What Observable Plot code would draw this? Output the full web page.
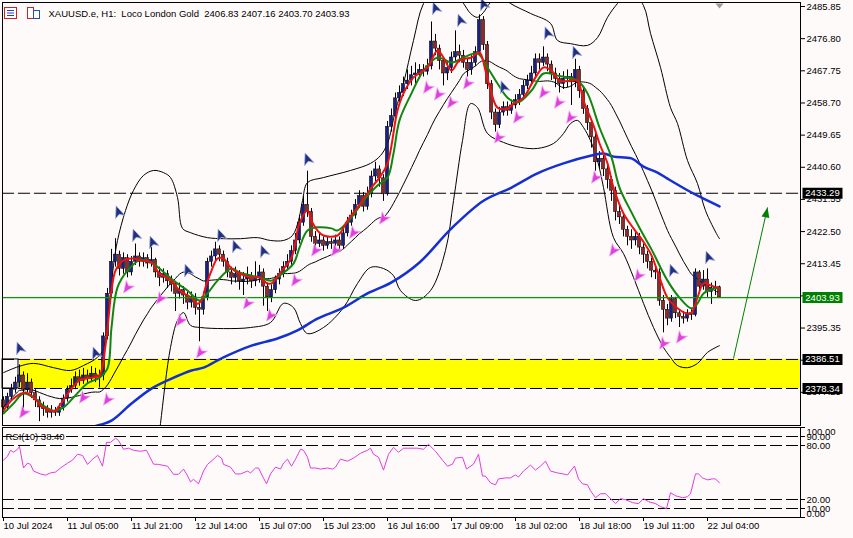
<!DOCTYPE html>
<html><head><meta charset="utf-8">
<script src="https://cdn.jsdelivr.net/npm/d3@7"></script>
<script src="https://cdn.jsdelivr.net/npm/@observablehq/plot@0.6"></script>
<style>
body{margin:0;background:#fffafa;}
#wrap{position:relative;width:853px;height:538px;overflow:hidden;background:#fffafa;}
#wrap svg{display:block;}
#icons{position:absolute;left:4px;top:7px;}
</style></head><body><div id="wrap"><div id="icons"></div></div>
<script>
// ---------- DATA ----------
const symbolName = "XAUUSD.e", timeframe = "H1", description = "Loco London Gold";
const firstOpen = 2375;
const closes = [2373,2376,2378,2380,2382,2378,2380,2377,2375,2373,
2372.5,2371.5,2372,2371.5,2373,2375.5,2378,2379,2381.5,2380.5,
2382,2381,2382.5,2381.5,2382,2393,2405,2414,2416,2412,
2415,2411,2414,2415.5,2414,2415,2413.5,2414.5,2411,2409.5,
2410.5,2408.5,2407.5,2405,2406,2404.5,2402.5,2404,2401,2400.5,
2404,2414,2415.5,2417.5,2416,2414,2411,2409.5,2410.5,2408.5,
2409,2410,2408.5,2409.5,2411,2407,2404,2406,2409,2410.5,
2412.5,2414,2417,2420,2425,2430,2428,2421,2419,2420,
2418.5,2419.5,2419,2420,2418.5,2422,2425,2427,2430,2432.5,
2429.5,2433,2438,2440,2437.5,2433,2452,2455,2460,2461.5,
2464,2465,2466.5,2467,2468,2467.5,2469,2476,2474,2470.5,
2467,2468.5,2471.5,2473,2472,2470,2468,2470,2473,2482,
2475,2464,2456,2452.5,2456,2457.5,2456.5,2458,2459.5,2461,
2463.5,2465,2467,2471,2470,2471.5,2469.5,2467,2465.5,2464,
2465.5,2466,2464.5,2468,2462,2457,2453,2449,2442,2443,
2440,2437,2434,2428,2426.5,2423,2421,2420,2421,2418,
2416,2414,2411.5,2411,2403,2400.5,2398,2403.5,2399.5,2398.5,
2398,2399.5,2399,2411,2407,2409,2405.5,2406.5,2406.83,2403.93];
const highs = [2376,2377,2379.5,2381.5,2385,2383,2382.5,2381,2378,2376,
2374.5,2373.5,2373.5,2373,2374,2376.5,2379,2381,2383,2383.5,
2384,2383.5,2384.5,2384,2383.5,2394,2406.5,2417.5,2420.5,2417,
2416.5,2416,2415.5,2419,2416.5,2416.5,2416,2418,2415,2412.5,
2412,2411.5,2410,2408.5,2408,2407,2405.5,2405.5,2405,2403,
2405.5,2415,2417,2419.5,2418.5,2417,2415,2412.5,2412.5,2411.5,
2411,2412.5,2411,2414,2413,2412,2408,2407.5,2410,2412,
2414,2416,2418.5,2422,2427,2432.5,2439.5,2429,2422.5,2422,
2421,2421,2420.5,2421.5,2421,2423.5,2426.5,2428.5,2431.5,2434,
2433.5,2435,2439.5,2442,2441,2438.5,2453.5,2457,2461.5,2463.5,
2466,2468,2469,2470,2469.5,2469.5,2471,2481.5,2478,2475,
2471.5,2470,2473,2479,2475,2473.5,2471,2472,2474.5,2483.5,
2483,2476,2465,2457,2457.5,2459,2459,2459.5,2461,2462.5,
2465,2466.5,2469,2472.5,2472.5,2474.5,2472.5,2470.5,2468.5,2467,
2467.5,2468,2467,2471,2469,2463,2458,2454,2450,2445,
2444,2441,2438,2435,2430,2427.5,2424,2423,2422.5,2422,
2419,2417,2415,2413,2412,2404.5,2402,2404.5,2404,2400.5,
2400,2400.5,2400.5,2412,2411.5,2411.5,2412,2408,2408.5,2407.16];
const lows = [2371.5,2372,2375,2377,2378.5,2372.5,2376.5,2375.5,2373,2369,
2370.5,2370,2370,2370.5,2370.5,2372,2374.5,2377,2378,2379,
2379.5,2379.5,2380,2380,2378.5,2380.5,2392,2404,2412.5,2410,
2410.5,2409.5,2410,2413,2412.5,2412.5,2412,2412.5,2409.5,2407,
2408,2406.5,2405.5,2400,2403.5,2402,2400.5,2401,2399,2391.5,
2399,2403,2412.5,2414,2414,2412.5,2409.5,2407.5,2408,2406,
2404.5,2407.5,2406.5,2407,2408,2401.5,2400,2402.5,2405,2407.5,
2409.5,2411.5,2413,2416,2419,2424,2426.5,2419.5,2417.5,2418,
2417,2417.5,2417.5,2418,2417,2417.5,2421,2424,2426,2429,
2428,2428.5,2432,2436.5,2435,2431,2432.5,2450.5,2454,2458.5,
2460.5,2462.5,2463.5,2464,2465.5,2466,2466.5,2468,2472,2468,
2463.5,2465,2467,2470,2470,2468.5,2466,2466.5,2469,2472,
2473.5,2462.5,2454,2450.5,2451.5,2455,2455,2455.5,2457,2458,
2460,2462.5,2464,2466,2468,2469,2467.5,2465,2463,2461.5,
2462.5,2463,2458,2463,2460,2455.5,2451,2446,2439.5,2440,
2438,2434.5,2431,2425.5,2424.5,2421,2418.5,2417.5,2418.5,2416,
2413.5,2412,2409.5,2409,2401.5,2394,2396,2397,2398,2395.5,
2396.5,2397,2397.5,2398.5,2405.5,2406,2404,2402,2404.5,2403.70];

// moving averages: [bar, price]
const redMA = [[0,2372.1],[2.5,2375.5],[5.5,2377.2],[7.5,2375.8],[10,2373.0],[13,2372.1],[14,2373.5],[17,2378.3],[19,2380.6],[22,2381.4],[24,2382.0],[25.5,2390.4],[27,2405.9],[28,2411.5],[30,2414.4],[32.5,2414.9],[34,2414.4],[37,2413.8],[39,2410.7],[42,2408.7],[44,2405.9],[47,2403.9],[48.5,2402.2],[49.5,2403.1],[50.5,2406.8],[52,2411.5],[53.5,2414.9],[55,2414.9],[57,2412.1],[59,2410.7],[62,2409.6],[64,2409.6],[66,2407.9],[67,2407.9],[69,2410.7],[72,2415.2],[74,2424.8],[76,2428.4],[77,2425.6],[78.5,2422.8],[80,2421.4],[83.5,2421.4],[86,2425.6],[88.5,2429.3],[92,2434.9],[94,2437.7],[96,2441.7],[98.5,2456.6],[100,2461.4],[102.5,2465.9],[106,2468.7],[108.5,2473.5],[110,2471.5],[112,2467.8],[114,2470.7],[117,2471.5],[119,2472.9],[120.5,2467.8],[122,2461.4],[123.5,2457.4],[126,2457.1],[127.5,2458.5],[130,2460.2],[132.5,2465.0],[135,2468.7],[137,2467.8],[139,2465.0],[142,2465.0],[143.5,2465.0],[145,2459.4],[147.5,2452.4],[149,2447.3],[151,2441.7],[152.5,2434.9],[155,2427.6],[157.5,2423.4],[160,2419.6],[162,2415.8],[164,2409.6],[166,2403.9],[168.5,2400.9],[171,2399.4],[172,2399.7],[173.5,2403.9],[175,2407.9],[177,2407.3],[179,2406.5]];
const greenMA = [[0,2371.3],[2.5,2374.1],[5,2376.9],[7.5,2375.8],[10,2373.5],[12.5,2372.1],[15,2373.0],[17.5,2375.8],[21,2379.8],[24,2381.4],[26,2384.0],[27,2395.5],[28.5,2406.8],[31,2411.5],[34,2414.4],[37,2413.8],[39,2412.1],[42.5,2408.7],[46,2405.9],[49,2403.1],[51,2405.1],[53.5,2408.7],[57,2412.1],[59,2411.0],[62,2410.1],[64,2409.6],[67,2408.7],[69,2410.1],[72.5,2413.5],[74,2418.0],[76,2422.8],[78.5,2423.7],[82,2423.4],[83.5,2422.8],[87,2426.5],[90,2431.2],[93.5,2435.5],[96,2437.7],[97.5,2444.5],[99,2453.8],[102,2461.4],[105,2467.8],[108.5,2471.5],[112,2470.1],[115,2471.5],[118.5,2472.6],[121,2468.7],[123.5,2464.2],[126,2460.2],[128.5,2458.8],[132,2462.2],[135,2467.0],[138.5,2466.4],[142,2465.6],[143.5,2465.0],[146,2461.4],[149,2451.8],[152,2443.4],[154,2434.9],[157,2427.9],[159.5,2422.5],[162,2417.5],[166,2408.7],[169,2403.9],[172,2400.9],[173.5,2402.3],[175,2405.1],[177.5,2406.5],[179,2406.5]];
const blueMA = [[19,2366.0],[22,2367.4],[27,2369.3],[32,2374.1],[37,2378.3],[42,2381.1],[47,2383.4],[50,2384.2],[55,2387.1],[62,2390.4],[68.5,2392.4],[73.5,2394.7],[78.5,2398.0],[85,2401.1],[91,2405.1],[97,2408.2],[104,2413.8],[112,2423.4],[120,2431.2],[127,2434.9],[133.5,2438.9],[140,2441.7],[147,2443.9],[150,2444.5],[152.5,2443.6],[157,2443.1],[160,2440.8],[163.5,2439.1],[166,2437.4],[172,2433.5],[175,2431.8],[179,2429.6]];
const bbPeriod = 20;
const bbUpper = [[0,2382.8],[3.75,2384.5],[7.5,2385.4],[12.5,2384.2],[16.75,2383.4],[20,2384.8],[23.5,2387.1],[25,2389.6],[26.25,2400.3],[27.5,2412.9],[28.5,2420.0],[30.5,2428.4],[32.5,2434.1],[35,2438.3],[37.5,2439.7],[40,2439.1],[41.75,2437.7],[43.5,2432.1],[44.75,2423.4],[46.75,2422.2],[51,2420.8],[55,2420.5],[59.25,2420.5],[63.5,2420.8],[66.75,2420.0],[70,2420.0],[72.25,2421.4],[73.75,2425.6],[74.75,2431.2],[76,2436.3],[80,2437.7],[86.75,2439.7],[91.75,2441.7],[94.25,2443.9],[96,2447.3],[98,2456.6],[100,2464.2],[102.5,2476.3],[105,2486.7],[109.25,2493.2],[113.25,2488.9],[115,2486.7],[116.75,2483.9],[118.5,2482.8],[120,2484.2],[121.75,2487.0],[124.25,2488.9],[126.75,2486.7],[131.75,2483.9],[136.75,2481.1],[138.5,2476.3],[141.75,2475.4],[146,2474.9],[148.5,2477.1],[151,2482.8],[153.5,2486.7],[156.75,2490.4],[160,2486.1],[161.75,2478.3],[164.25,2468.7],[166.75,2457.4],[168.5,2452.9],[171,2442.5],[173.5,2436.0],[175.5,2428.4],[178.5,2421.4],[179,2420.5]];
const bbLower = [[0,2360.9],[14,2360.9],[24,2363.7],[26.75,2352.4],[31.75,2346.8],[36.75,2349.6],[38.5,2360.9],[39.25,2368.5],[41.75,2389.9],[43.5,2397.5],[45,2399.7],[46.75,2396.1],[49.25,2395.5],[55,2395.2],[61.75,2395.5],[66.75,2396.9],[70,2402.3],[72.5,2401.1],[74.25,2396.6],[76,2393.8],[80,2395.5],[85,2401.1],[88.5,2407.9],[91.75,2412.4],[95,2412.1],[97.5,2410.1],[99.25,2405.9],[103,2403.1],[106.75,2405.9],[110.5,2417.2],[112.5,2431.2],[114.75,2448.1],[116.75,2458.5],[118.5,2457.4],[121,2450.1],[125,2447.6],[129.25,2446.2],[133.5,2445.9],[137.5,2447.3],[140,2450.1],[141.75,2452.9],[143.5,2453.8],[145,2451.8],[146.75,2448.1],[148.5,2442.5],[150,2434.9],[152.5,2420.8],[155,2416.3],[157.5,2409.6],[160,2402.3],[162.5,2395.5],[165,2389.9],[166.75,2387.1],[168.5,2384.8],[171,2384.2],[173.5,2385.4],[176,2388.5],[179,2390.4]];

// fractal arrows [bar, price]
const upArrows = [[4,2389.6],[23,2388.2],[28.75,2427.9],[33,2421.4],[37.25,2419.4],[46,2411.5],[54.25,2421.4],[58,2418.3],[65,2416.9],[76,2442.8],[108,2485.3],[114.25,2481.9],[120,2486.4],[125,2463.1],[136,2478.3],[143,2472.9],[167.25,2411.5],[176.25,2415.2]];
const downArrows = [[5,2371.6],[20,2375.8],[26,2375.2],[31,2406.8],[39.25,2403.7],[44.25,2397.5],[49.25,2388.5],[61,2402.3],[66.75,2398.9],[73,2408.7],[78,2417.2],[83,2417.2],[87.5,2422.2],[95,2426.2],[106,2463.0],[108.75,2461.1],[112,2458.8],[116,2464.2],[123.75,2449.0],[128.5,2454.6],[135,2461.6],[138.75,2458.8],[141.75,2454.6],[148,2437.7],[152.5,2417.2],[158.75,2410.1],[165,2391.0],[169.25,2392.7]];

// levels
const resistanceLevel = 2433.29;
const zoneLevels = [2386.51, 2378.34];
const bidLevel = 2403.93;
const zoneStartBar = 4.25;
const oldZoneEndBar = 3.75;
const trendArrow = {from: [182.5, 2386.8], to: [191, 2429.3]};

// axes
const priceTicks = [2485.85,2476.80,2467.75,2458.70,2449.65,2440.60,2431.55,2422.50,2413.45,2404.40,2395.35,2386.30,2377.25];
const timeTickBars = [0,16,32,48,64,80,96,112,128,144,160,176];
const timeLabels = ["10 Jul 2024","11 Jul 05:00","11 Jul 21:00","12 Jul 14:00","15 Jul 07:00","15 Jul 23:00","16 Jul 16:00","17 Jul 09:00","18 Jul 02:00","18 Jul 18:00","19 Jul 11:00","22 Jul 04:00"];

// RSI(10): [bar, value]
const rsiPeriod = 10;
const rsiLevels = [10, 20, 80, 90];
const rsiTicks = [0, 10, 20, 80, 90, 100];
const rsiValues = [[0,63.7],[1,68],[1.75,74.7],[2.5,72.5],[3.5,75.8],[4,79],[5,55],[6,60.4],[6.75,59],[7.5,51.6],[9.25,48.4],[10.5,47],[11.75,49.5],[13,50.5],[14.25,55],[16,60.4],[17.25,63.7],[18.5,70.3],[19.75,69],[21,59],[22.25,64.8],[23.5,69],[24.75,57],[25.75,83.5],[26.75,83.5],[28,88],[28.75,85.7],[30,75.8],[31.25,77],[32.5,74.7],[34.25,73.6],[35.75,74.7],[37.5,59.3],[38.75,59],[41,57],[42.5,48],[43.75,48],[45,53.8],[45.75,48.4],[46.75,39.6],[47.5,42.4],[48.75,37.4],[50,51.6],[51,59],[52.25,63.7],[53.5,69],[54.5,66],[55,59],[56.75,56],[58,48.4],[59.25,48.4],[61,51.6],[61.75,49.5],[63,55],[63.75,55],[64.75,46],[65.75,37.4],[66.75,48.4],[68,56],[69.25,53.8],[70,60.4],[71,64.8],[72,57],[73,64.8],[74.25,75.8],[75,74.7],[76,67],[76.75,55],[78,55],[79.25,53.8],[81,55],[82.25,53.8],[83,56],[84.25,64.8],[86,62.6],[87.5,66],[89.25,71.4],[91,74.7],[91.75,77],[92.5,70.3],[93.75,67],[95,52.7],[96.25,70.3],[97.5,78],[98.75,72.5],[100,77],[101.75,77],[103.5,77],[105,75.8],[106.25,81.3],[108,73.6],[109.75,63.7],[111,57],[112.25,59.3],[113,66],[114.75,67],[115.75,53.8],[117.5,59.3],[118.75,70.3],[119.75,46],[120.5,46],[121.75,38.5],[123,36.3],[123.75,42.9],[125.5,44],[126.75,44],[128,47.3],[128.75,45],[130,51.6],[131.75,58.2],[133,52.7],[134.25,57.1],[135.5,62.6],[136.75,51.6],[138.5,49.5],[140,48.4],[141,47.3],[141.75,51.6],[142.75,57.1],[143.75,42.9],[144.75,37.4],[146,36.3],[146.75,29.7],[148,22],[149.25,26.4],[150.5,26.4],[152.25,18.7],[153,15.4],[154.25,20.9],[155.5,19.8],[157.25,16.5],[158.75,15.4],[160,20.9],[161.25,17.6],[163,15.4],[164.25,12.1],[165.75,9.9],[166.75,27.5],[168,24.2],[169.75,22],[171,23.1],[171.75,26.4],[173,48.4],[173.75,48.4],[174.75,44],[176,41.8],[177.25,42.9],[178,42.9],[179,38.4]];

// ---------- DRAWING ----------
const FONT = "'Liberation Sans', Arial, sans-serif";
const BULL = "#1c2080", BEAR = "#8e2a2a";
const xDomain = [-0.25, 199.25];
const bars = closes.map((c, i) => ({i, o: i ? closes[i-1] : firstOpen, c, h: highs[i], l: lows[i]}));
const last = bars[bars.length - 1];

function sym(pts){ return {draw(ctx){ ctx.moveTo(pts[0][0], pts[0][1]); for (let k = 1; k < pts.length; k++) ctx.lineTo(pts[k][0], pts[k][1]); ctx.closePath(); }}; }
function rot(pts, deg){ const t = deg*Math.PI/180, c = Math.cos(t), s = Math.sin(t); return pts.map(([x,y]) => [x*c - y*s, x*s + y*c]); }
const upSym = sym(rot([[0,-7],[5,5],[0,2],[-5,5]], -20));
const downSym = sym(rot([[0,7],[5,-5],[0,-2],[-5,-5]], 35));
const headSym = sym(rot([[0,0],[4,10],[-4,10]], 12));
const badgeSym = sym([[-20,-5.5],[20,-5.5],[20,5.5],[-20,5.5]]);
const shiftSym = sym([[-4,0],[4,0],[0,5]]);

const badges = [
  {v: resistanceLevel, c: "#000"},
  {v: bidLevel, c: "#008000"},
  {v: zoneLevels[0], c: "#000"},
  {v: zoneLevels[1], c: "#000"}
];
const header = `${symbolName}, ${timeframe}:\u00a0\u00a0${description}\u00a0\u00a0${[last.o, last.h, last.l, last.c].map(v => v.toFixed(2)).join(" ")}`;

const lineOpts = (color, w) => ({x: d => d[0], y: d => d[1], stroke: color, strokeWidth: w, curve: "catmull-rom", clip: true});

const main = Plot.plot({
  width: 853, height: 426, marginTop: 2, marginBottom: 1, marginLeft: 2, marginRight: 53,
  style: {background: "#fffafa", fontFamily: FONT, fontSize: "9.5px", color: "#000"},
  color: {type: "identity"},
  x: {domain: xDomain, axis: null},
  y: {domain: [2367.92, 2486.98]},
  marks: [
    Plot.rect([zoneLevels], {x1: zoneStartBar, x2: xDomain[1], y1: d => d[1], y2: d => d[0], fill: "#ffff00"}),
    Plot.rect([zoneLevels], {x1: xDomain[0], x2: oldZoneEndBar, y1: d => d[1], y2: d => d[0], fill: "none", stroke: "#000", strokeWidth: 1}),
    Plot.ruleY([resistanceLevel, ...zoneLevels], {stroke: "#000", strokeDasharray: "12,4"}),
    Plot.line(bbUpper, lineOpts("#000", 1)),
    Plot.line(bbLower, lineOpts("#000", 1)),
    Plot.line(bars, Plot.windowY({k: bbPeriod, anchor: "end", strict: false}, {x: "i", y: "c", stroke: "#000", strokeWidth: 1, curve: "catmull-rom", clip: true})),
    Plot.ruleX(bars, {x: "i", y1: "l", y2: "h", stroke: "#000", strokeWidth: 1}),
    Plot.rect(bars, {x1: d => d.i - 0.4, x2: d => d.i + 0.4,
      y1: d => Math.min(d.o, d.c), y2: d => Math.max(d.o, d.c) + (d.o === d.c ? 0.2 : 0),
      fill: d => d.c >= d.o ? BULL : BEAR, stroke: "#000", strokeWidth: 0.5}),
    Plot.line(blueMA, lineOpts("#1530d0", 2.5)),
    Plot.line(greenMA, lineOpts("#0f870f", 2)),
    Plot.line(redMA, lineOpts("#ee1111", 2)),
    Plot.ruleY([bidLevel], {stroke: "#00a000", strokeWidth: 1.2}),
    Plot.dot(upArrows, {x: d => d[0], y: d => d[1], symbol: upSym, fill: "#20307e", stroke: "#aab4e6", strokeWidth: 0.8}),
    Plot.dot(downArrows, {x: d => d[0], y: d => d[1], symbol: downSym, fill: "#e040e0", stroke: "#f4b0f4", strokeWidth: 0.8}),
    Plot.link([trendArrow], {x1: d => d.from[0], y1: d => d.from[1], x2: d => d.to[0], y2: d => d.to[1], stroke: "#008000", strokeWidth: 1}),
    Plot.dot([trendArrow], {x: d => d.to[0], y: d => d.to[1], symbol: headSym, fill: "#008000"}),
    Plot.dot([last.i], {x: d => d, frameAnchor: "top", dy: 1, symbol: shiftSym, fill: "#9a9a9a"}),
    Plot.text([header], {text: d => d, frameAnchor: "top-left", dx: 46, dy: 11, lineAnchor: "middle", textAnchor: "start", fill: "#000"}),
    Plot.frame({stroke: "#000", strokeWidth: 1}),
    Plot.axisY(priceTicks, {anchor: "right", tickSize: 4, tickPadding: 2, tickFormat: d => d.toFixed(2), fill: "#000"}),
    Plot.dot(badges, {y: d => d.v, frameAnchor: "right", dx: 22, symbol: badgeSym, fill: d => d.c}),
    Plot.text(badges, {y: d => d.v, frameAnchor: "right", dx: 22, text: d => d.v.toFixed(2), fill: "#fff", textAnchor: "middle"})
  ]
});

const timeMap = new Map(timeTickBars.map((b, k) => [b, timeLabels[k]]));
const rsiLabel = `RSI(${rsiPeriod}) ${rsiValues[rsiValues.length - 1][1].toFixed(2)}`;
const rsiLabelOpts = (dy) => ({y: d => d, frameAnchor: "right", dx: 6, dy, textAnchor: "start", text: d => d.toFixed(2), fill: "#000"});
const rsi = Plot.plot({
  width: 853, height: 112, marginTop: 1, marginBottom: 21, marginLeft: 2, marginRight: 53,
  style: {background: "#fffafa", fontFamily: FONT, fontSize: "9.5px", color: "#000"},
  x: {domain: xDomain},
  y: {domain: [0, 100]},
  marks: [
    Plot.ruleY(rsiLevels, {stroke: "#000", strokeDasharray: "12,4"}),
    Plot.line(rsiValues, {x: d => d[0], y: d => d[1], stroke: "#e03ce0", strokeWidth: 1}),
    Plot.text([rsiLabel], {text: d => d, frameAnchor: "top-left", dx: 3, dy: 9, lineAnchor: "middle", textAnchor: "start", fill: "#000"}),
    Plot.frame({stroke: "#000", strokeWidth: 1}),
    Plot.axisY(rsiTicks, {anchor: "right", tickSize: 4, tickFormat: () => ""}),
    Plot.text(rsiTicks.filter(t => t > 0 && t < 100), rsiLabelOpts(0)),
    Plot.text(rsiTicks.filter(t => t === 100), rsiLabelOpts(4)),
    Plot.text(rsiTicks.filter(t => t === 0), rsiLabelOpts(-4)),
    Plot.axisX(timeTickBars, {anchor: "bottom", tickSize: 4, tickPadding: 1, textAnchor: "start", tickFormat: d => timeMap.get(d), fill: "#000"})
  ]
});

const wrap = document.getElementById("wrap");
wrap.appendChild(main);
wrap.appendChild(rsi);

// small toolbar icons of the terminal header
document.getElementById("icons").innerHTML =
 '<svg width="40" height="12"><rect x="0.5" y="0.5" width="12" height="11" fill="#fff" stroke="#d02020"/>' +
 '<line x1="3" y1="3.5" x2="10" y2="3.5" stroke="#2040c0"/><line x1="3" y1="6" x2="10" y2="6" stroke="#2040c0"/><line x1="3" y1="8.5" x2="10" y2="8.5" stroke="#2040c0"/>' +
 '<rect x="23.5" y="0.5" width="6" height="11" fill="#fff" stroke="#d02020"/><rect x="29.5" y="3.5" width="6" height="8" fill="#fff" stroke="#2050c0"/></svg>';
</script>
</body></html>
